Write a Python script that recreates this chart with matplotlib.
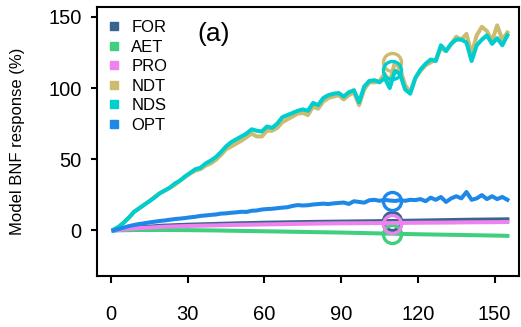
import matplotlib
matplotlib.use("Agg")
import matplotlib.pyplot as plt
from matplotlib.lines import Line2D

plt.rcParams['font.family'] = ['Liberation Sans', 'DejaVu Sans']

# fine grid (every 2 days) for the noisy series
day = list(range(1, 156, 2))
nds = [0.5, 2.5, 5.5, 9, 13, 15.5, 18, 20.5, 23, 26, 28, 30, 33, 35, 38, 40.5, 43, 44, 47, 49,
       51.5, 55, 59, 62, 64, 66, 68, 71, 70, 69.5, 73, 72, 75, 79.5, 81, 82.5, 84, 85, 84, 89.5,
       88, 93, 95, 96, 96.5, 94, 97, 98.5, 90, 101, 105, 105.5, 104, 107, 100, 112, 110, 99, 96, 107,
       113, 117, 120, 119, 130, 126, 131, 134, 134, 132, 119, 130, 134, 137, 131, 135, 130, 137]
ndt = [0.5, 2.5, 5.5, 9, 13, 15.5, 18, 20.5, 23.5, 26, 28, 30, 32, 35, 37.5, 40, 42, 43, 45.5, 47,
       49.5, 53, 57, 59, 61, 63, 65.5, 68, 66, 66, 70, 70, 72, 76, 78, 80, 82, 82.5, 81, 87,
       85.5, 90.5, 93, 94, 95, 92, 95, 97, 88, 99, 104, 104, 105, 110, 104, 118, 114, 102, 97, 107,
       112, 116, 118, 120, 128, 126, 131, 136, 134, 138, 124, 137, 143, 140, 133, 144, 134, 139]
opt = [0, 1, 2, 3, 3.8, 4.5, 5, 5.6, 6.1, 6.6, 7, 7.5, 8, 8.3, 8.7, 9.2, 9.6, 10.2, 10.5, 10.9,
       11.2, 11.8, 12, 12.4, 12.7, 13.1, 13, 13.8, 14, 14.7, 15, 15.2, 15.6, 16, 16.3, 17.2, 17.8, 17.5, 17.7, 18.2,
       18.5, 18.8, 18.5, 19, 19.3, 19.6, 18.6, 20.5, 20, 19.5, 21.2, 21.5, 20.8, 21.5, 21, 20.7, 21.2, 20.8, 21.5, 21.3,
       22, 20.5, 23, 21.5, 23.5, 20, 22.5, 24, 22.5, 27, 21.5, 22.5, 24.8, 22, 24, 22, 23.5, 21.5]

# coarse grid for the smooth series
day_c = [1, 10, 20, 30, 40, 50, 60, 70, 80, 90, 100, 110, 120, 130, 140, 150, 155]
fo = [0, 2.0, 3.3, 4.0, 4.5, 5.0, 5.4, 5.7, 6.0, 6.2, 6.4, 6.6, 6.9, 7.2, 7.5, 7.7, 7.8]
pro = [0, 1.5, 2.5, 3.1, 3.5, 3.9, 4.2, 4.5, 4.8, 5.0, 5.1, 5.2, 5.4, 5.5, 5.7, 5.8, 5.9]
aet = [0, 0.3, 0.3, 0.2, 0.0, -0.3, -0.6, -0.9, -1.2, -1.5, -1.9, -2.3, -2.7, -3.0, -3.3, -3.6, -3.8]

names = ['FOR', 'AET', 'PRO', 'NDT', 'NDS', 'OPT']
colors = ['#38648e', '#3fcf7f', '#ee82ee', '#cdbb6f', '#00cdcd', '#1e88e8']
mark_day = 110
mark_vals = [6.5, -2.5, 4.5, 118, 113, 21]

fig = plt.figure(figsize=(5.21, 3.27), dpi=100)
ax = fig.add_axes([0.186, 0.156, 0.81, 0.823])

series = [(day_c, fo), (day_c, aet), (day_c, pro), (day, ndt), (day, nds), (day, opt)]
for (x, y), c, mv in zip(series, colors, mark_vals):
    ax.plot(x, y, color=c, lw=2.9, solid_joinstyle='round')
    ax.plot([mark_day], [mv], marker='o', ms=13, mfc='none', mec=c, mew=2.4)

ax.set_xlim(-5.5, 159.5)
ax.set_ylim(-32, 157)
ax.set_xticks([0, 30, 60, 90, 120, 150])
ax.set_yticks([0, 50, 100, 150])
ax.tick_params(axis='x', direction='out', length=5, width=1.5, pad=16, labelsize=14.5)
ax.tick_params(axis='y', direction='out', length=4, width=1.5, pad=7, labelsize=14.5)
for s in ax.spines.values():
    s.set_linewidth(1.5)

ax.set_ylabel('Model BNF response (%)', fontsize=12, labelpad=17)
ax.text(0.277, 0.9, '(a)', transform=ax.transAxes, ha='center', va='center', fontsize=19)

handles = [Line2D([], [], ls='none', marker='s', ms=6, color=c) for c in colors]
ax.legend(handles, names, loc='upper left', frameon=False, fontsize=12,
          handlelength=0.8, handletextpad=0.6, labelspacing=0.27,
          borderaxespad=0.0, bbox_to_anchor=(0.01, 0.975))

fig.savefig('out.png', dpi=100)
